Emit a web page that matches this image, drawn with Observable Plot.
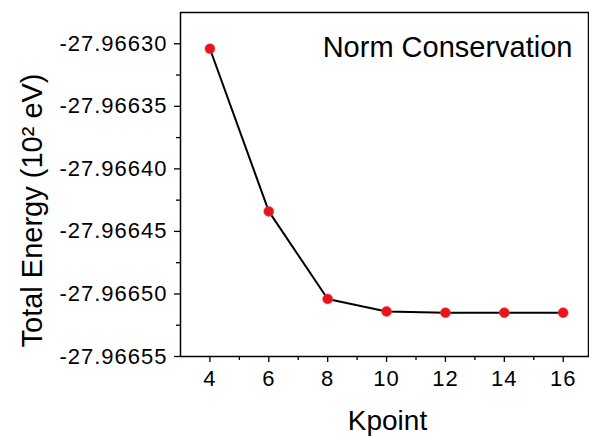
<!DOCTYPE html>
<html><head><meta charset="utf-8">
<script src="https://cdn.jsdelivr.net/npm/d3@7"></script>
<script src="https://cdn.jsdelivr.net/npm/@observablehq/plot@0.6"></script>
<style>
body{margin:0;background:#fff;}
svg{font-family:"Liberation Sans",Arial,sans-serif;}
g[aria-label="y-axis tick label"] text, g[aria-label="x-axis tick label"] text{letter-spacing:1px;}
</style>
</head><body><div id="chart"></div>
<script>
const kpoints = [4, 6, 8, 10, 12, 14, 16];
const energy = [-27.966304, -27.966434, -27.966504, -27.966514, -27.966515, -27.966515, -27.966515];
const xTicks = [4, 6, 8, 10, 12, 14, 16];
const xMinorTicks = [5, 7, 9, 11, 13, 15];
const yTicks = [-27.9663, -27.96635, -27.9664, -27.96645, -27.9665, -27.96655];
const yMinorTicks = [-27.966325, -27.966375, -27.966425, -27.966475, -27.966525];
const title = "Norm Conservation";
const xLabel = "Kpoint";
const yLabel = "Total Energy (10² eV)";

const data = kpoints.map((k, i) => ({k, e: energy[i]}));

const chart = Plot.plot({
  width: 589, height: 436,
  marginLeft: 180, marginRight: 1, marginTop: 12, marginBottom: 80,
  style: {fontFamily: '"Liberation Sans", Arial, sans-serif', color: "black", background: "white"},
  x: {domain: [3, 16.86]},
  y: {domain: [-27.96655, -27.966275]},
  marks: [
    Plot.axisX({ticks: xTicks, tickSize: 6, tickPadding: 8, tickFormat: d => String(d), label: null, fontSize: 22, strokeWidth: 1.3}),
    Plot.axisX({ticks: xMinorTicks, tickSize: 4, tickFormat: () => "", label: null, strokeWidth: 1.3}),
    Plot.axisY({ticks: yTicks, tickSize: 6, tickPadding: 7, tickFormat: d => d.toFixed(5), label: null, fontSize: 22, strokeWidth: 1.3}),
    Plot.axisY({ticks: yMinorTicks, tickSize: 4, tickFormat: () => "", label: null, strokeWidth: 1.3}),
    Plot.frame({stroke: "black", strokeWidth: 1.5}),
    Plot.line(data, {x: "k", y: "e", stroke: "black", strokeWidth: 2}),
    Plot.dot(data, {x: "k", y: "e", r: 5, fill: "#e8141c", stroke: "#f04a4a", strokeWidth: 0.6}),
    Plot.text([title], {frameAnchor: "top-right", text: d => d, textAnchor: "end", lineAnchor: "top", dx: -16, dy: 24, fontSize: 29}),
    Plot.text([xLabel], {frameAnchor: "bottom", text: d => d, textAnchor: "middle", lineAnchor: "middle", dx: 3, dy: 65, fontSize: 28}),
    Plot.text([yLabel], {frameAnchor: "left", text: d => d, rotate: -90, textAnchor: "middle", lineAnchor: "middle", dx: -148, dy: 26, fontSize: 29})
  ]
});
document.getElementById("chart").appendChild(chart);
</script>
</body></html>
